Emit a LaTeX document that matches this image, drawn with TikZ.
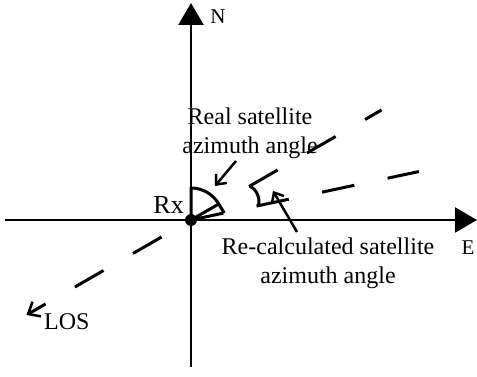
\documentclass[tikz,border=0pt]{standalone}
\usepackage{fontspec}
\setmainfont{Liberation Serif}
\usetikzlibrary{arrows.meta,calc}
\begin{document}
\begin{tikzpicture}[x=1pt,y=1pt,
  axis/.style={line width=2.3pt,-{Triangle[length=22pt,width=25pt]}},
  dashline/.style={line width=3pt,dash pattern=on 33pt off 34pt},
  pointer/.style={line width=2.5pt,-{Straight Barb[length=8pt,width=14pt,line width=2.5pt]}},
  lbl/.style={font=\fontsize{24}{29}\selectfont,align=center,inner sep=0pt},
  marker/.style={line width=3pt}
]
\useasboundingbox (0,0) rectangle (477,377);
\coordinate (O) at (191,157);
\coordinate (W) at (5,157);
\coordinate (Etip) at (477,157);
\coordinate (S) at (191,10);
\coordinate (Ntip) at (191,374);
\draw[axis] (W) -- (Etip);
\draw[axis] (S) -- (Ntip);
\node[font=\fontsize{21}{24}\selectfont,inner sep=0pt] (N) at (218,360) {N};
\node[font=\fontsize{21}{24}\selectfont,inner sep=0pt] (E) at (468,129) {E};
\node[font=\fontsize{26}{30}\selectfont,inner sep=0pt,anchor=base east] (Rx) at (184,163) {Rx};
% LOS line
\coordinate (LOSend) at ($(O)+(30:220)$);
\coordinate (LOSarrow) at ($(O)+(210:190)$);
\draw[dashline] (O) -- (LOSend);
\draw[line width=3pt,dash pattern=on 33pt off 34pt,dash phase=33pt,-{Straight Barb[length=10pt,width=17pt,line width=2.5pt]}] (O) -- (LOSarrow);
\node[lbl,anchor=base west] (LOS) at (44,47) {LOS};
% second line
\coordinate (Rend) at ($(O)+(12:233)$);
\draw[dashline] (O) -- (Rend);
% real azimuth sector
\coordinate (Ra) at ($(O)+(90:32)$);
\coordinate (Rc) at ($(O)+(12:34)$);
\draw[marker,line join=round] (O) -- (Ra) arc[start angle=90,end angle=30,radius=32] -- (Rc);
% recalculated angle
\coordinate (Ca) at ($(O)+(30:68)$);
\coordinate (Cb) at ($(O)+(12:69)$);
\draw[marker] (Ca) to[bend left=35] (Cb);
% dot
\fill (O) circle[radius=6pt];
% labels and pointers
\node[lbl] (real) at (250,244) {Real satellite\\azimuth angle};
\node[lbl] (recalc) at (328,114) {Re-calculated satellite\\azimuth angle};
\coordinate (p1s) at (236,216);
\coordinate (p1e) at (215,191);
\coordinate (p2s) at (297,145);
\coordinate (p2e) at (273,186);
\draw[pointer] (p1s) -- (p1e);
\draw[pointer] (p2s) -- (p2e);
\end{tikzpicture}
\end{document}
